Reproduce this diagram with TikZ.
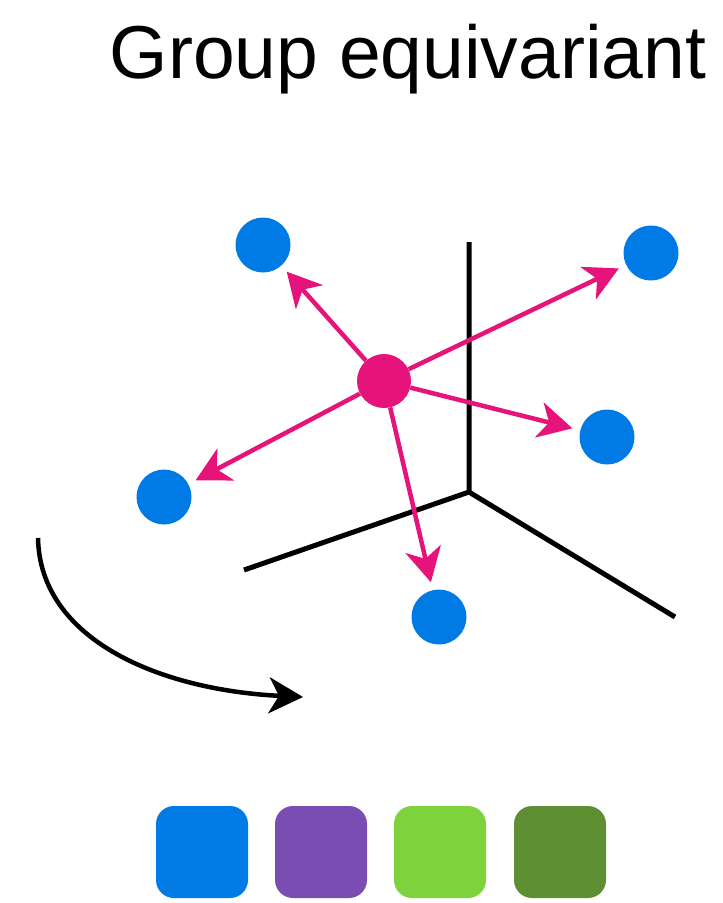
\documentclass[tikz,border=0pt]{standalone}
\usepackage{fontspec}
\setmainfont{Liberation Sans}
\usepackage{xcolor}
\definecolor{ptblue}{RGB}{0,123,229}
\definecolor{hubpink}{RGB}{230,20,122}
\definecolor{sqpurple}{RGB}{121,77,178}
\definecolor{sqlime}{RGB}{126,210,59}
\definecolor{sqolive}{RGB}{94,143,50}
\usetikzlibrary{arrows.meta}

\tikzset{
  pointdot/.style={circle, fill=ptblue, inner sep=0pt, minimum size=55pt},
  hubdot/.style={circle, fill=hubpink, inner sep=0pt, minimum size=54pt},
  push/.style={hubpink, line width=4.5pt, shorten >=8pt,
    -{Stealth[length=34pt, width=36pt, inset=10pt]}},
  axisline/.style={line width=5pt},
  swatch/.style={rounded corners=18pt, inner sep=0pt, minimum size=92pt}
}

\begin{document}
\begin{tikzpicture}[x=1pt, y=-1pt]
  \useasboundingbox (0,0) rectangle (723,903);

  % Title
  \node[font=\fontsize{75}{84}\selectfont, anchor=base] (title) at (408,78)
       {Group equivariant};

  % Axes
  \coordinate (origin) at (469,492);
  \coordinate (zend) at (469,242);
  \coordinate (xend) at (244,570);
  \coordinate (yend) at (675,617);
  \draw[axisline] (zend) -- (origin) -- (xend);
  \draw[axisline] (origin) -- (yend);

  % Points
  \node[pointdot] (ptl) at (263,245) {};
  \node[pointdot] (ptr) at (651,253) {};
  \node[pointdot] (pr)  at (607,437) {};
  \node[pointdot] (pl)  at (164,497) {};
  \node[pointdot] (pb)  at (439,617) {};
  \node[hubdot] (hub) at (384,381) {};

  % Arrows out of the hub
  \foreach \p in {ptl, ptr, pr, pl, pb}
    \draw[push] (hub) -- (\p);

  % Rotation arrow
  \coordinate (turnstart) at (38,538);
  \coordinate (turnend) at (303,697);
  \draw[line width=4.5pt, -{Stealth[length=34pt, width=36pt, inset=10pt]}]
       (turnstart) .. controls (40,640) and (160,690) .. (turnend);

  % Colour swatches
  \foreach \c/\x [count=\i] in {ptblue/202, sqpurple/321, sqlime/440, sqolive/560}
    \node[swatch, fill=\c] (sw\i) at (\x,852) {};
\end{tikzpicture}
\end{document}
